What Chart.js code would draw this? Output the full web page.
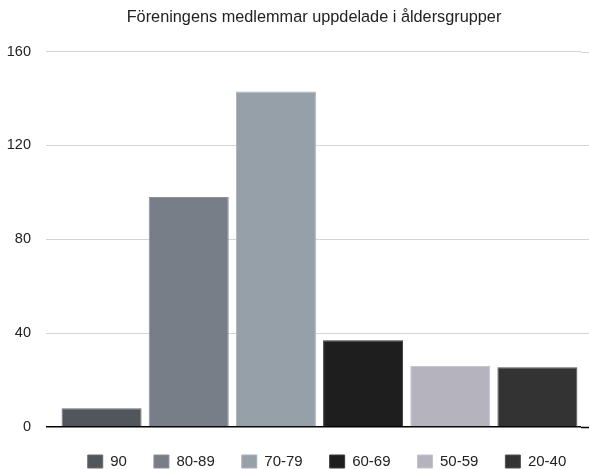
<!DOCTYPE html>
<html>
<head>
<meta charset="utf-8">
<script src="https://cdn.jsdelivr.net/npm/chart.js@4"></script>
<style>
  html, body { margin: 0; padding: 0; background: #ffffff; }
  #wrap { width: 589px; height: 469px; position: relative; }
</style>
</head>
<body>
<div id="wrap"><canvas id="c"></canvas></div>
<script>
const chartTitle = 'Föreningens medlemmar uppdelade i åldersgrupper';
const categories = ['90', '80-89', '70-79', '60-69', '50-59', '20-40'];
const members = [8, 98, 143, 37, 26, 25.5];
const yTicks = [0, 40, 80, 120, 160];

const fillColors = ['#51565d', '#787e87', '#96a0a9', '#1e1e1e', '#b4b3be', '#333333'];
const edgeColors = ['#676c72', '#8c9199', '#a9b1b8', '#3a3a3a', '#c5c4cd', '#525252'];

const FONT = "'Liberation Sans', Arial, Helvetica, sans-serif";
const GRID = '#d4d4d4';

const datasets = categories.map((cat, i) => ({
  label: cat,
  data: categories.map((c, j) => (j === i ? members[i] : null)),
  backgroundColor: fillColors[i],
  borderColor: edgeColors[i],
  borderWidth: 1,
  categoryPercentage: 1,
  barPercentage: 0.918
}));

const gridExtend = {
  id: 'gridExtend',
  beforeDatasetsDraw(chart) {
    const y = chart.scales.y;
    const ctx = chart.ctx;
    const area = chart.chartArea;
    ctx.save();
    y.ticks.forEach((t) => {
      const py = Math.round(y.getPixelForValue(t.value)) + 0.5;
      ctx.beginPath();
      ctx.strokeStyle = t.value === 0 ? '#000000' : GRID;
      ctx.lineWidth = t.value === 0 ? 1.5 : 1;
      ctx.moveTo(area.right, py);
      ctx.lineTo(chart.width, py);
      ctx.stroke();
    });
    ctx.restore();
  }
};

const blockShift = {
  id: 'blockShift',
  afterLayout(chart) {
    if (chart.legend) {
      chart.legend.left += 33;
      chart.legend.right += 33;
    }
    if (chart.titleBlock) {
      chart.titleBlock.left += 20;
      chart.titleBlock.right += 20;
    }
  }
};

new Chart(document.getElementById('c'), {
  type: 'bar',
  data: { labels: categories, datasets },
  plugins: [gridExtend, blockShift],
  options: {
    responsive: true,
    maintainAspectRatio: false,
    animation: false,
    grouped: false,
    skipNull: true,
    layout: { padding: { left: 7, right: 8, top: 0, bottom: -10 } },
    plugins: {
      title: {
        display: true,
        text: chartTitle,
        color: '#222222',
        font: { family: FONT, size: 16.3, weight: 'normal' },
        padding: { top: 8, bottom: 24 }
      },
      legend: {
        display: true,
        position: 'bottom',
        labels: {
          color: '#222222',
          font: { family: FONT, size: 15 },
          boxWidth: 15,
          boxHeight: 13,
          padding: 27
        }
      },
      tooltip: { enabled: false }
    },
    scales: {
      x: {
        display: false
      },
      y: {
        min: 0,
        max: 160,
        afterBuildTicks(scale) {
          scale.ticks = yTicks.map(v => ({ value: v }));
        },
        afterFit(scale) {
          scale.width = 51;
        },
        ticks: {
          color: '#222222',
          font: { family: FONT, size: 14.5 },
          padding: 15,
          stepSize: 40
        },
        grid: {
          color: (ctx) => (ctx.tick && ctx.tick.value === 0 ? '#000000' : GRID),
          lineWidth: (ctx) => (ctx.tick && ctx.tick.value === 0 ? 1.5 : 1),
          tickLength: 12,
          drawTicks: true
        },
        border: { display: false }
      }
    }
  }
});
</script>
</body>
</html>
